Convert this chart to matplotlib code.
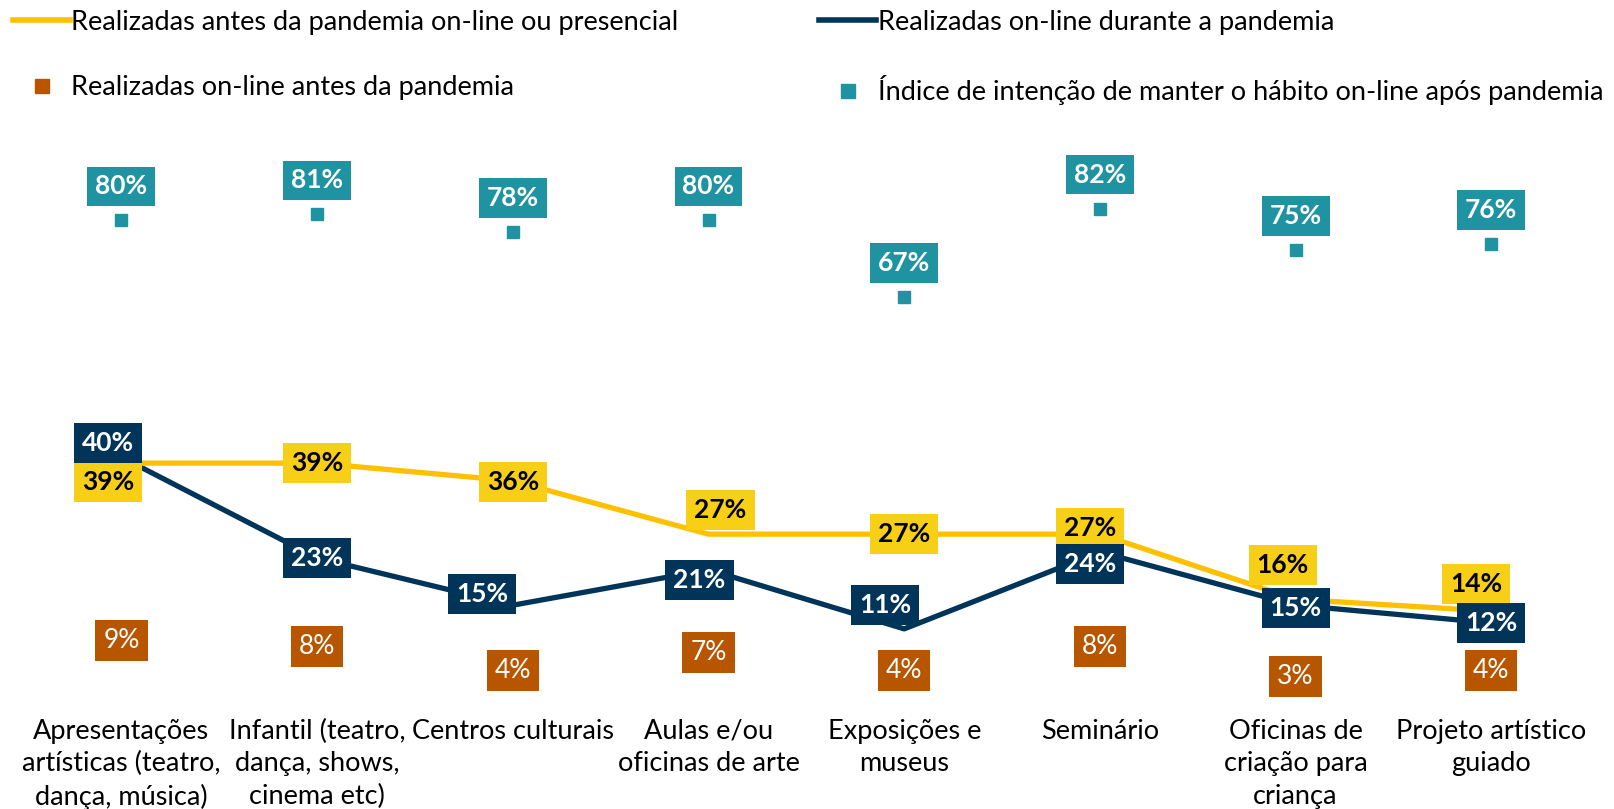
import numpy as np
import matplotlib.pyplot as plt
from matplotlib.lines import Line2D

plt.rcParams['font.family'] = ['Lato', 'DejaVu Sans']

categorias = [
    "Apresentações\nartísticas (teatro,\ndança, música)",
    "Infantil (teatro,\ndança, shows,\ncinema etc)",
    "Centros culturais",
    "Aulas e/ou\noficinas de arte",
    "Exposições e\nmuseus",
    "Seminário",
    "Oficinas de\ncriação para\ncriança",
    "Projeto artístico\nguiado",
]
antes_presencial = [39, 39, 36, 27, 27, 27, 16, 14]
durante_online = [40, 23, 15, 21, 11, 24, 15, 12]
antes_online = [9, 8, 4, 7, 4, 8, 3, 4]
intencao = [80, 81, 78, 80, 67, 82, 75, 76]

# label offsets in pixels (dx, dy), tuned by eye
off_amarelo = [(-13, -19), (0, 0), (0, -1), (12, 24), (0, 0), (-10, 6), (-13, 34), (-15, 27)]
off_azul = [(-13, 14), (0, 0), (-31, 11), (-9, -10), (-19, 24), (-10, -12), (0, -3), (0, 0)]

amarelo = "#FFC000"
amarelo_box = "#F8CF17"
azul = "#003459"
laranja = "#B85600"
teal = "#1F93A2"

fs = 19.5
fig = plt.figure(figsize=(16.15, 8.09), dpi=100)
ax = fig.add_axes([0.0146, 0.0324, 0.9694, 0.8049])
x = np.arange(len(categorias))

ax.plot(x, durante_online, color=azul, lw=3.8, zorder=2, solid_capstyle="butt")
ax.plot(x, antes_presencial, color=amarelo, lw=3.8, zorder=3, solid_capstyle="butt")
ax.plot(x, intencao, ls="none", marker="s", ms=8.5, color=teal, zorder=2)
ax.plot(x, antes_online, ls="none", marker="s", ms=8.5, color=laranja, zorder=2)

pt = 0.72
for i in x:
    ax.annotate(f"{intencao[i]}%", (i, intencao[i]), xytext=(0, 34 * pt),
                textcoords="offset points", ha="center", va="center",
                fontsize=19, fontweight="bold", color="white", zorder=5,
                bbox=dict(boxstyle="square,pad=0.3", fc=teal, ec="none"))
    ax.annotate(f"{antes_online[i]}%", (i, antes_online[i]), xytext=(0, 0),
                textcoords="offset points", ha="center", va="center",
                fontsize=19, color="white", zorder=5,
                bbox=dict(boxstyle="square,pad=0.3", fc=laranja, ec="none"))
    dx, dy = off_amarelo[i]
    ax.annotate(f"{antes_presencial[i]}%", (i, antes_presencial[i]),
                xytext=(dx * pt, dy * pt), textcoords="offset points",
                ha="center", va="center", fontsize=19, fontweight="bold",
                color="black", zorder=6,
                bbox=dict(boxstyle="square,pad=0.3", fc=amarelo_box, ec="none"))
    dx, dy = off_azul[i]
    ax.annotate(f"{durante_online[i]}%", (i, durante_online[i]),
                xytext=(dx * pt, dy * pt), textcoords="offset points",
                ha="center", va="center", fontsize=19, fontweight="bold",
                color="white", zorder=7,
                bbox=dict(boxstyle="square,pad=0.3", fc=azul, ec="none"))
    ax.text(i, -4.2, categorias[i], ha="center", va="top", fontsize=fs,
            linespacing=1.37, color="black")

ax.set_xlim(-0.5, 7.5)
ax.set_ylim(-15, 95)
ax.axis("off")

# legend filled column by column: col 1 = yellow, orange; col 2 = navy, teal
handles = [
    Line2D([], [], color=amarelo, lw=4),
    Line2D([], [], ls="none", marker="s", ms=10, color=laranja),
    Line2D([], [], color=azul, lw=4),
    Line2D([], [], ls="none", marker="s", ms=10, color=teal),
]
nomes = [
    "Realizadas antes da pandemia on-line ou presencial",
    "Realizadas on-line antes da pandemia",
    "Realizadas on-line durante a pandemia",
    "Índice de intenção de manter o hábito on-line após pandemia",
]
fig.legend(handles, nomes, loc="upper left", bbox_to_anchor=(-0.007, 1.018), ncol=2,
           frameon=False, fontsize=fs, handlelength=2.1, handletextpad=0.05,
           columnspacing=5.2, labelspacing=1.5)

fig.savefig("out.png", dpi=100)
